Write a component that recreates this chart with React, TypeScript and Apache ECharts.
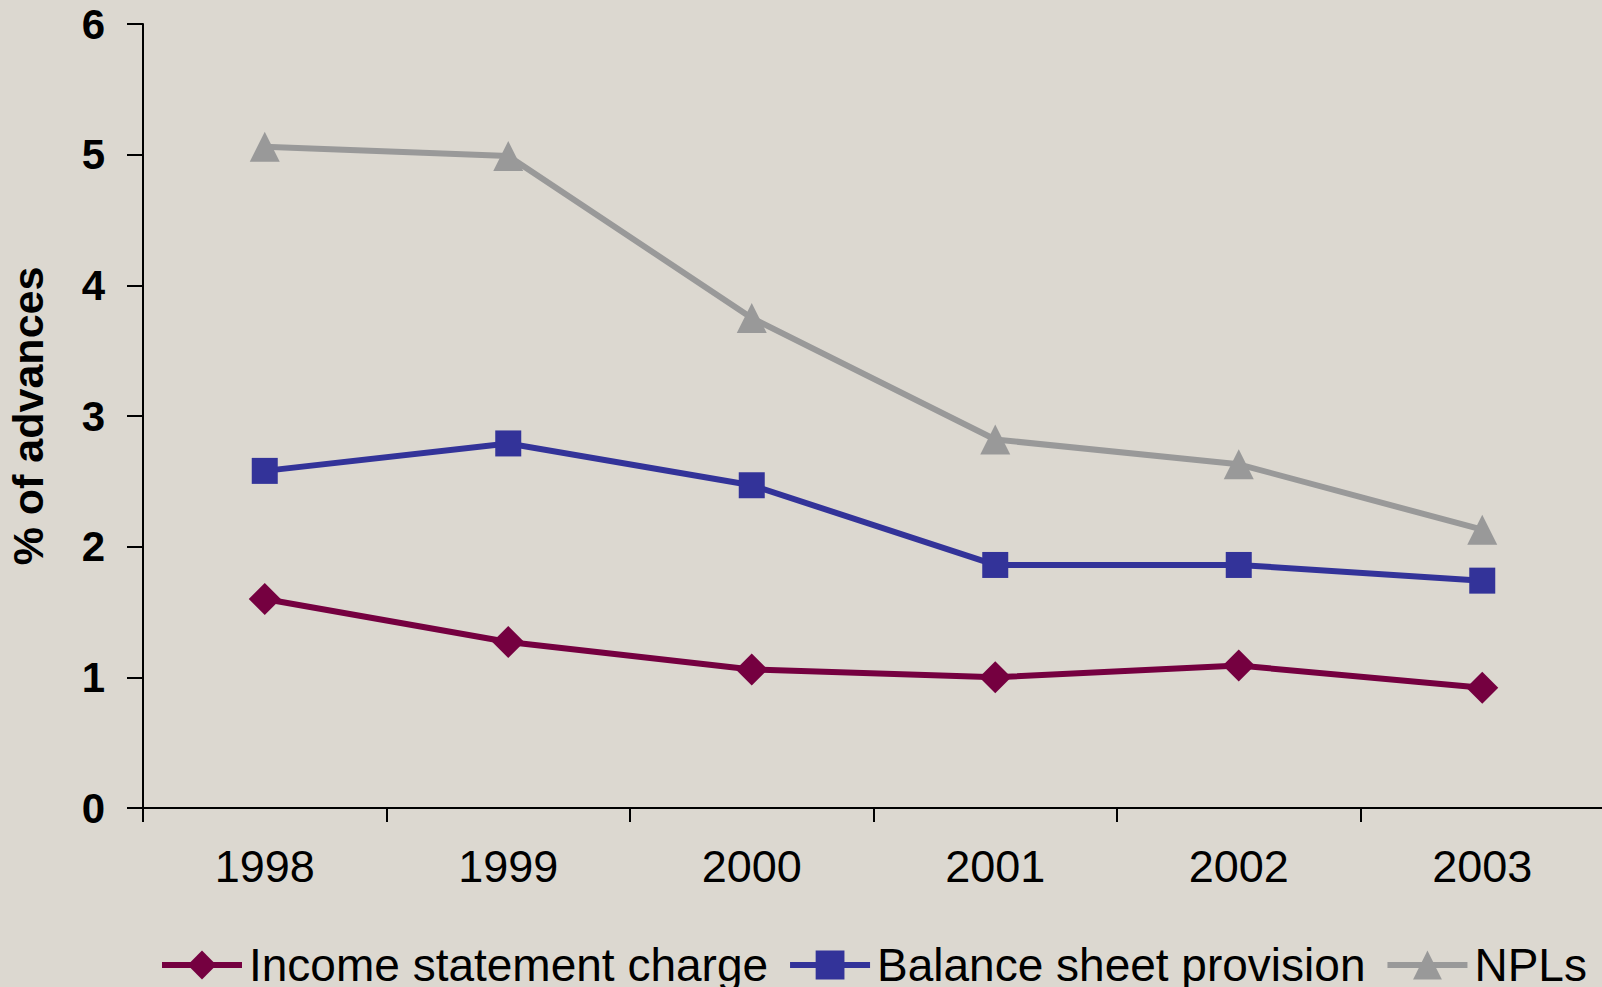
import React, { useEffect, useRef } from "react";
import * as echarts from "echarts";

const categories = ["1998", "1999", "2000", "2001", "2002", "2003"];
const incomeStatementCharge = [1.6, 1.27, 1.06, 1.0, 1.09, 0.92];
const balanceSheetProvision = [2.58, 2.79, 2.47, 1.86, 1.86, 1.74];
const npls = [5.06, 4.99, 3.75, 2.82, 2.63, 2.13];
const yTicks = [0, 1, 2, 3, 4, 5, 6];

export default function App() {
  const ref = useRef<HTMLDivElement>(null);
  useEffect(() => {
    if (!ref.current) return;
    const chart = echarts.init(ref.current, undefined, { renderer: "svg" });
    const font = "'Liberation Sans', Arial, sans-serif";
    chart.setOption({
      animation: false,
      backgroundColor: "#DCD8D0",
      textStyle: { fontFamily: font },
      grid: { left: 143, top: 24, width: 1461, bottom: 179, containLabel: false, outerBoundsMode: "none" },
      legend: {
        left: 154,
        top: 937,
        width: 1448,
        itemWidth: 80,
        itemHeight: 36,
        itemGap: 19,
        lineStyle: { width: 6 },
        textStyle: { fontSize: 46, color: "#000", fontFamily: font, padding: [0, 0, 0, 2] },
        data: ["Income statement charge", "Balance sheet provision", "NPLs"],
      },
      xAxis: {
        type: "category",
        data: categories,
        boundaryGap: true,
        axisLine: { lineStyle: { color: "#000", width: 2 } },
        axisTick: { show: true, length: 14, lineStyle: { color: "#000", width: 2 } },
        axisLabel: { fontSize: 45, color: "#000", margin: 36, fontFamily: font },
        splitLine: { show: false },
      },
      yAxis: {
        type: "value",
        min: yTicks[0],
        max: yTicks[yTicks.length - 1],
        interval: 1,
        name: "% of advances",
        nameLocation: "middle",
        nameGap: 94,
        nameTextStyle: { fontSize: 43, fontWeight: "bold", color: "#000", fontFamily: font },
        axisLine: { show: true, lineStyle: { color: "#000", width: 2 } },
        axisTick: { show: true, length: 16, lineStyle: { color: "#000", width: 2 } },
        axisLabel: { fontSize: 42, fontWeight: "bold", color: "#000", margin: 38, fontFamily: font },
        splitLine: { show: false },
      },
      series: [
        {
          name: "Income statement charge",
          type: "line",
          data: incomeStatementCharge,
          symbol: "diamond",
          symbolSize: 32,
          lineStyle: { color: "#750040", width: 6 },
          itemStyle: { color: "#750040" },
        },
        {
          name: "Balance sheet provision",
          type: "line",
          data: balanceSheetProvision,
          symbol: "rect",
          symbolSize: 26,
          lineStyle: { color: "#333399", width: 6 },
          itemStyle: { color: "#333399" },
        },
        {
          name: "NPLs",
          type: "line",
          data: npls,
          symbol: "triangle",
          symbolSize: 30,
          lineStyle: { color: "#999999", width: 6 },
          itemStyle: { color: "#999999" },
        },
      ],
    });
    return () => chart.dispose();
  }, []);
  return <div ref={ref} style={{ position: "fixed", left: 0, top: 0, width: 1602, height: 987 }} />;
}
